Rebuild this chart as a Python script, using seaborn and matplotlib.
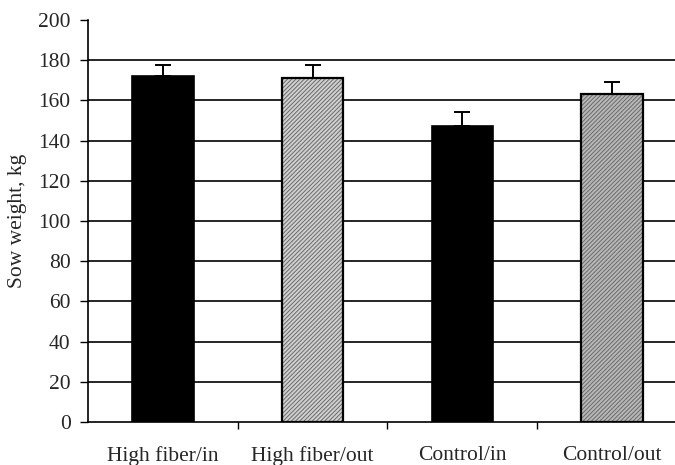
import matplotlib
matplotlib.use("Agg")
import matplotlib.pyplot as plt
import seaborn as sns
import pandas as pd

categories = ["High fiber/in", "High fiber/out", "Control/in", "Control/out"]
weights = [172, 171, 147.5, 163]
errors = [5.5, 6.5, 6.5, 6.3]
y_ticks = [0, 20, 40, 60, 80, 100, 120, 140, 160, 180, 200]

df = pd.DataFrame({"group": categories, "weight": weights})

sns.set_theme(style="white")
plt.rcParams["font.family"] = ["Liberation Serif", "DejaVu Serif"]
plt.rcParams["hatch.linewidth"] = 0.7

fig = plt.figure(figsize=(6.75, 4.65), dpi=100)
ax = fig.add_axes([88 / 675, 1 - 422 / 465, 1 - 88 / 675, (422 - 20) / 465])

colors = ["black", "#d0d0d0", "black", "#b8b8b8"]
sns.barplot(data=df, x="group", y="weight", hue="group", palette=colors,
            width=0.41, edgecolor="black", linewidth=1.2, legend=False,
            errorbar=None, ax=ax, zorder=3)

hatches = [None, "////////", None, "////////"]
for patch, h in zip(ax.patches, hatches):
    if h:
        patch.set_hatch(h)
        patch.set_edgecolor("#6a6a6a")
    patch.set_zorder(3)
for patch, h in zip(ax.patches, hatches):
    if h:
        x, y = patch.get_xy()
        ax.add_patch(plt.Rectangle((x, y), patch.get_width(), patch.get_height(),
                                   fill=False, edgecolor="black", linewidth=1.6, zorder=4))

ax.errorbar(range(len(categories)), weights, yerr=[[0] * 4, errors], fmt="none",
            ecolor="black", elinewidth=1.4, capsize=6, capthick=1.4, zorder=5)

ax.set_ylim(0, 200)
ax.set_xlim(-0.5, 3.42)
ax.set_yticks(y_ticks)
ax.set_yticklabels([str(t) for t in y_ticks], fontsize=15.5)
ax.yaxis.grid(True, color="black", linewidth=1.2, zorder=0)
ax.set_axisbelow(True)
gl = ax.yaxis.get_gridlines()
gl[0].set_visible(False)
gl[-1].set_visible(False)

ax.set_xticks(range(len(categories)))
ax.set_xticklabels(categories, fontsize=15.5)
ax.set_xticks([0.5, 1.5, 2.5], minor=True)
ax.tick_params(axis="x", which="major", length=0, pad=17)
ax.tick_params(axis="x", which="minor", length=5, width=1, direction="out", color="black", bottom=True)
ax.tick_params(axis="y", which="major", length=5.5, width=1, direction="out", color="black", left=True, pad=7)

ax.set_xlabel("")
ax.set_ylabel("Sow weight, kg", fontsize=15.5, labelpad=8)

for s in ["top", "right"]:
    ax.spines[s].set_visible(False)
for s in ["left", "bottom"]:
    ax.spines[s].set_color("black")
    ax.spines[s].set_linewidth(1.2)

fig.savefig("out.png", dpi=100)
